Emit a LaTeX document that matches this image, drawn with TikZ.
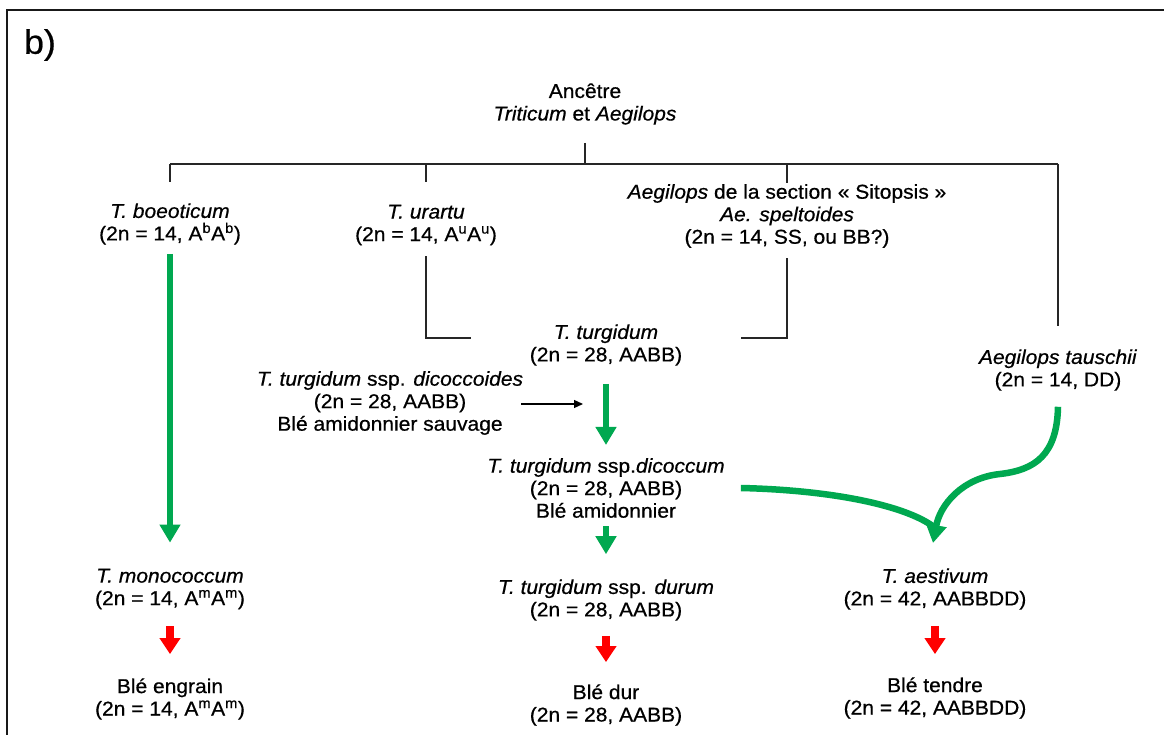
\documentclass[tikz,border=0pt]{standalone}
\usepackage{fontspec}
\setmainfont{Liberation Sans}[FakeStretch=1.05,FakeBold=0.6]
\usetikzlibrary{arrows.meta}
\definecolor{gr}{RGB}{0,168,80}
\definecolor{rd}{RGB}{255,0,0}
\begin{document}
\begin{tikzpicture}[x=1pt,y=-1pt,
  lbl/.style={align=center,inner sep=0pt,font=\fontsize{20}{22.5}\selectfont},
  tree/.style={line width=1.3pt,black!85},
  garrow/.style={line width=6.5pt,gr,-{Triangle[width=20pt,length=18pt]}},
  rarrow/.style={line width=8pt,rd,-{Triangle[width=20pt,length=16pt]}},
  gline/.style={line width=6.5pt,gr},
  barrow/.style={line width=1.2pt,black,-{Triangle[width=8pt,length=9pt]}}]
\useasboundingbox (0,0) rectangle (1164,735);
\fill[white] (0,0) rectangle (1164,735);
% frame
\draw[line width=2pt,black!90] (7,735) -- (7,10) -- (1164,10);
\node[font=\fontsize{34}{40}\selectfont,inner sep=0pt] (lab) at (40,45) {b)};
% nodes
\node[lbl] (anc) at (585,104) {Ancêtre\\\textit{Triticum} et \textit{Aegilops}};
\node[lbl] (boe) at (170,224) {\textit{T. boeoticum}\\(2n = 14, A\textsuperscript{b}A\textsuperscript{b})};
\node[lbl] (ura) at (426,225) {\textit{T. urartu}\\(2n = 14, A\textsuperscript{u}A\textsuperscript{u})};
\node[lbl] (sit) at (787,216) {\textit{Aegilops} de la section « Sitopsis »\\\textit{Ae. speltoides}\\(2n = 14, SS, ou BB?)};
\node[lbl] (turg) at (606,345) {\textit{T. turgidum}\\(2n = 28, AABB)};
\node[lbl] (dico) at (390,403) {\textit{T. turgidum} ssp. \textit{dicoccoides}\\(2n = 28, AABB)\\Blé amidonnier sauvage};
\node[lbl] (dicm) at (606,488) {\textit{T. turgidum} ssp.\textit{dicoccum}\\(2n = 28, AABB)\\Blé amidonnier};
\node[lbl] (dur) at (606,600) {\textit{T. turgidum} ssp. \textit{durum}\\(2n = 28, AABB)};
\node[lbl] (bdur) at (606,705) {Blé dur\\(2n = 28, AABB)};
\node[lbl] (mono) at (170,589) {\textit{T. monococcum}\\(2n = 14, A\textsuperscript{m}A\textsuperscript{m})};
\node[lbl] (engr) at (170,699) {Blé engrain\\(2n = 14, A\textsuperscript{m}A\textsuperscript{m})};
\node[lbl] (taus) at (1058,370) {\textit{Aegilops tauschii}\\(2n = 14, DD)};
\node[lbl] (aest) at (935,589) {\textit{T. aestivum}\\(2n = 42, AABBDD)};
\node[lbl] (tend) at (935,698) {Blé tendre\\(2n = 42, AABBDD)};
% tree
\coordinate (hub) at (585,164);
\draw[tree] ([yshift=-18pt]anc.south) -- (anc.south |- hub);
\draw[tree] (boe.north |- hub) -- (taus.north |- hub);
\draw[tree] (boe.north |- hub) -- ++(0,18);
\draw[tree] (ura.north |- hub) -- ++(0,18);
\draw[tree] (sit.north |- hub) -- ++(0,19);
\draw[tree,shorten >=23pt] (taus.north |- hub) -- (taus.north);
\coordinate (bl) at (471,338);
\coordinate (br) at (741,338);
\draw[tree] ([yshift=-11pt]ura.south) |- (bl);
\draw[tree] ([yshift=-10pt]sit.south) |- (br);
% arrows
\draw[garrow,shorten <=9pt,shorten >=26pt] (boe) -- (mono);
\draw[garrow,shorten <=18pt,shorten >=13pt] (turg) -- (dicm);
\draw[garrow,shorten <=8pt,shorten >=25pt] (dicm) -- (dur);
\draw[rarrow,shorten <=15pt,shorten >=22pt] (dur) -- (bdur);
\draw[rarrow,shorten <=17pt,shorten >=24pt] (mono) -- (engr);
\draw[rarrow,shorten <=16pt,shorten >=23pt] (aest) -- (tend);
\coordinate (bk) at (583,404);
\draw[barrow,shorten <=-2pt] (bk -| dico.east) -- (bk);
\coordinate (tip) at (933,543);
\coordinate (join) at (934,527);
\draw[gline] ([xshift=16pt]dicm.east) .. controls (830,490) and (905,505) .. (join);
\draw[garrow] ([yshift=-16pt]taus.south) .. controls (1057,455) and (1035,470) .. (1000,474) .. controls (962,478) and (940,505) .. (tip);
\end{tikzpicture}
\end{document}
